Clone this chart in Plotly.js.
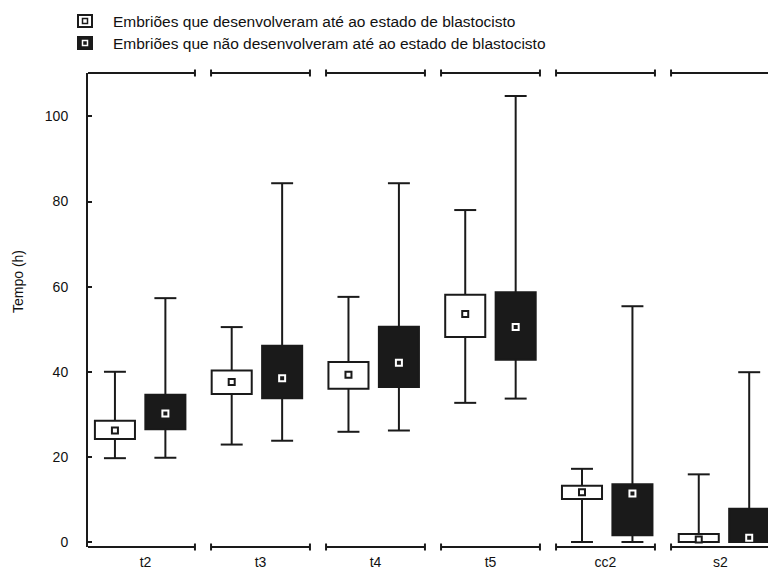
<!DOCTYPE html>
<html>
<head>
<meta charset="utf-8">
<script src="https://cdn.plot.ly/plotly-3.0.1.min.js"></script>
<style>html,body{margin:0;padding:0;background:#fff;}#chart{width:768px;height:570px;}</style>
</head>
<body>
<div id="chart"></div>
<script>
// ---- data ----
const categories = ['t2', 't3', 't4', 't5', 'cc2', 's2'];
const seriesNames = [
  'Embriões que desenvolveram até ao estado de blastocisto',
  'Embriões que não desenvolveram até ao estado de blastocisto'
];
const devMin    = [19.7, 22.9, 25.9, 32.7, 0.0, 0.0];
const devQ1     = [24.2, 34.8, 36.0, 48.2, 10.1, 0.0];
const devMedian = [26.2, 37.6, 39.3, 53.6, 11.7, 0.6];
const devQ3     = [28.5, 40.3, 42.3, 58.1, 13.2, 1.9];
const devMax    = [40.0, 50.5, 57.6, 78.0, 17.2, 15.9];
const nonMin    = [19.8, 23.8, 26.2, 33.7, 0.0, 0.0];
const nonQ1     = [26.5, 33.8, 36.4, 42.8, 1.6, 0.0];
const nonMedian = [30.2, 38.5, 42.1, 50.5, 11.4, 1.0];
const nonQ3     = [34.6, 46.1, 50.6, 58.7, 13.6, 7.8];
const nonMax    = [57.3, 84.3, 84.3, 104.8, 55.4, 39.9];
const yTicks    = [0, 20, 40, 60, 80, 100];

// ---- styling / geometry ----
const INK = '#1a1a1a';
const TXT = '#111111';
const FONT = 'Liberation Sans, Arial, sans-serif';
const W = 768, H = 570;
const M = {l: 88, r: 0, t: 73, b: 23};
const PW = W - M.l - M.r, PH = H - M.t - M.b;
const OFF = 0.216;      // box offset from group centre
const BOXW = 0.343;     // box width
const CAP = 0.094;      // half cap width
const pos = categories.map((c, i) => i);

function boxTraces(offset, q1, med, q3, mn, mx, fill, inner, innerLine) {
  const x = pos.map(p => p + offset);
  const bar = {
    type: 'bar', x: x, base: q1, y: q3.map((v, i) => v - q1[i]),
    width: x.map(() => BOXW),
    marker: {color: fill, line: {color: INK, width: 2}},
    showlegend: false, hoverinfo: 'skip', xaxis: 'x', yaxis: 'y'
  };
  const wx = [], wy = [];
  x.forEach((p, i) => {
    wx.push(p, p, null, p, p, null, p - CAP, p + CAP, null, p - CAP, p + CAP, null);
    wy.push(q3[i], mx[i], null, q1[i], mn[i], null, mx[i], mx[i], null, mn[i], mn[i], null);
  });
  const whisk = {
    type: 'scatter', mode: 'lines', x: wx, y: wy, connectgaps: false,
    line: {color: INK, width: 2}, showlegend: false, hoverinfo: 'skip', cliponaxis: false
  };
  const medTr = {
    type: 'scatter', mode: 'markers', x: x, y: med,
    marker: {symbol: 'square', size: 6, color: inner, line: {color: innerLine, width: 2}},
    showlegend: false, hoverinfo: 'skip', cliponaxis: false
  };
  return [bar, whisk, medTr];
}

const data = [].concat(
  boxTraces(-OFF, devQ1, devMedian, devQ3, devMin, devMax, '#ffffff', '#ffffff', INK),
  boxTraces(OFF, nonQ1, nonMedian, nonQ3, nonMin, nonMax, INK, INK, '#ffffff')
);

// segmented top/bottom axis frames
const shapes = [];
const HALF = 0.43;
categories.forEach((c, i) => {
  const x0 = i === 0 ? -0.5 : i - HALF;
  const x1 = i + HALF;
  [0, 1].forEach(yp => {
    shapes.push({type: 'line', xref: 'x2', yref: 'paper', x0: x0, x1: x1, y0: yp, y1: yp,
      line: {color: INK, width: 2}});
    const ends = i === 0 ? [x1] : [x0, x1];
    ends.forEach(xe => shapes.push({type: 'line', xref: 'x2', yref: 'paper', ysizemode: 'pixel',
      yanchor: yp, x0: xe, x1: xe, y0: -3.5, y1: 3.5, line: {color: INK, width: 2}}));
  });
});

// legend (drawn manually to get the Statistica-style icons)
const px = v => (v - M.l) / PW;
const py = v => (H - M.b - v) / PH;
const legendRows = [21, 43];
const annotations = [];
legendRows.forEach((cy, k) => {
  shapes.push({type: 'rect', xref: 'paper', yref: 'paper',
    x0: px(78), x1: px(92), y0: py(cy + 6), y1: py(cy - 6),
    fillcolor: k === 0 ? '#ffffff' : INK, line: {color: INK, width: 2}});
  shapes.push({type: 'rect', xref: 'paper', yref: 'paper',
    x0: px(82.5), x1: px(87.5), y0: py(cy + 2.5), y1: py(cy - 2.5),
    fillcolor: k === 0 ? '#ffffff' : INK, line: {color: k === 0 ? INK : '#ffffff', width: 1.5}});
  annotations.push({xref: 'paper', yref: 'paper', x: px(111), y: py(cy), xanchor: 'left', yanchor: 'middle',
    text: seriesNames[k], showarrow: false, font: {family: FONT, size: 15.5, color: TXT}});
});
annotations.push({xref: 'paper', yref: 'paper', x: px(18), y: py(282), xanchor: 'center', yanchor: 'middle',
  text: 'Tempo (h)', textangle: -90, showarrow: false, font: {family: FONT, size: 14, color: TXT}});

const layout = {
  width: W, height: H, margin: M,
  paper_bgcolor: '#ffffff', plot_bgcolor: '#ffffff',
  font: {family: FONT, size: 14, color: TXT},
  barmode: 'overlay', showlegend: false,
  xaxis: {range: [-0.4467, 5.377], visible: false, fixedrange: true},
  xaxis2: {overlaying: 'x', anchor: 'y', side: 'bottom', range: [-0.5, 5.413],
    tickmode: 'array', tickvals: pos, ticktext: categories, ticks: '', showline: false,
    showgrid: false, zeroline: false, tickfont: {size: 14, color: TXT}, ticklabelstandoff: 5},
  yaxis: {range: [-1.17, 110.2], tickmode: 'array', tickvals: yTicks, ticks: 'inside',
    ticklen: 4, tickwidth: 2, tickcolor: INK, showline: true, linewidth: 2, linecolor: INK,
    showgrid: false, zeroline: false, tickfont: {size: 14, color: TXT}, ticklabelstandoff: 15},
  shapes: shapes, annotations: annotations
};

Plotly.newPlot('chart', data, layout, {displayModeBar: false, staticPlot: true});
</script>
</body>
</html>
